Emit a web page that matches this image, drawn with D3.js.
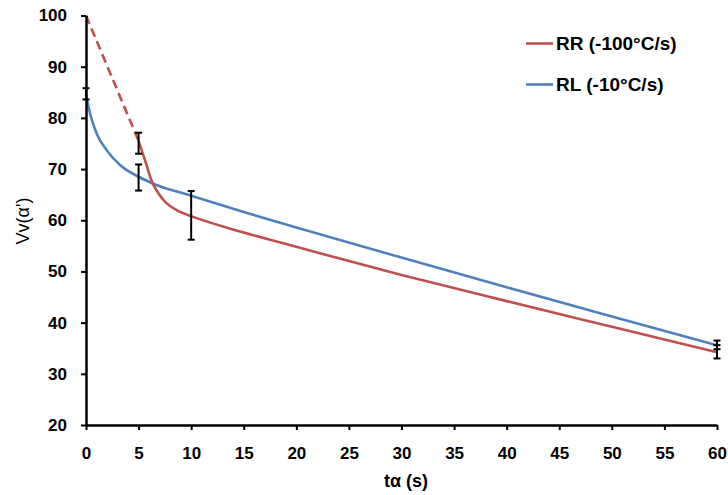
<!DOCTYPE html>
<html>
<head>
<meta charset="utf-8">
<script src="https://cdn.jsdelivr.net/npm/d3@7"></script>
<style>
  html, body { margin: 0; padding: 0; background: #fff; }
  svg { display: block; font-family: "Liberation Sans", Arial, sans-serif; }
</style>
</head>
<body>
<svg id="chart" width="728" height="495"></svg>
<script>
// ---- Data ----
const xTicks = [0, 5, 10, 15, 20, 25, 30, 35, 40, 45, 50, 55, 60];
const yTicks = [20, 30, 40, 50, 60, 70, 80, 90, 100];

// RR (-100°C/s): dashed extrapolated part and solid fitted curve
const rrDashedT = [0, 5];
const rrDashedV = [100, 75.5];
const rrT = [5, 5.6, 6.2, 7.35, 8.9, 10, 15, 20, 30, 40, 50, 60];
const rrV = [75.5, 71.8, 67.9, 64.0, 61.7, 60.8, 57.6, 54.8, 49.3, 44.2, 39.2, 34.2];

// RL (-10°C/s): fitted curve
const rlT = [0, 0.38, 1.0, 1.96, 3.23, 5, 6.7, 10, 15, 20, 30, 40, 50, 60];
const rlV = [84.5, 80.9, 77.0, 73.7, 70.8, 68.5, 66.9, 64.8, 61.6, 58.6, 52.7, 46.9, 41.2, 35.6];

// Error bars (measured points)
const errT    = [0, 5, 5, 10, 60, 60];
const errLow  = [83.6, 73.0, 65.8, 56.2, 33.0, 34.8];
const errHigh = [85.8, 77.1, 70.9, 65.7, 35.6, 36.5];

const seriesNames  = ["RR (-100°C/s)", "RL (-10°C/s)"];
const seriesColors = ["#C0504D", "#4F81BD"];

// ---- Layout ----
const svg = d3.select("#chart");
const x = d3.scaleLinear().domain([0, 60]).range([86, 717]);
const y = d3.scaleLinear().domain([20, 100]).range([425, 15.5]);

const line = d3.line()
  .x(d => x(d[0])).y(d => y(d[1]))
  .curve(d3.curveMonotoneX);

const zip = (a, b) => a.map((v, i) => [v, b[i]]);

// Curves
svg.append("path")
  .datum(zip(rrDashedT, rrDashedV))
  .attr("d", d3.line().x(d => x(d[0])).y(d => y(d[1])))
  .attr("fill", "none").attr("stroke", seriesColors[0])
  .attr("stroke-width", 2.6).attr("stroke-dasharray", "9,5");

svg.append("path")
  .datum(zip(rlT, rlV))
  .attr("d", line)
  .attr("fill", "none").attr("stroke", seriesColors[1]).attr("stroke-width", 2.6);

svg.append("path")
  .datum(zip(rrT, rrV))
  .attr("d", line)
  .attr("fill", "none").attr("stroke", seriesColors[0]).attr("stroke-width", 2.6);

// Axes
const fontSize = "17px";
const yAxis = svg.append("g")
  .attr("transform", `translate(${x(0)},0)`)
  .call(d3.axisLeft(y).tickValues(yTicks).tickSize(5).tickPadding(14).tickSizeOuter(0));
const xAxis = svg.append("g")
  .attr("transform", `translate(0,${y(20)})`)
  .call(d3.axisBottom(x).tickValues(xTicks).tickSize(5).tickPadding(17).tickSizeOuter(0));

[xAxis, yAxis].forEach(g => {
  g.select(".domain").attr("stroke", "#000").attr("stroke-width", 2.5);
  g.selectAll(".tick line").attr("stroke", "#000").attr("stroke-width", 2);
  g.selectAll(".tick text")
    .attr("fill", "#000")
    .style("font-size", fontSize)
    .style("font-weight", "bold")
    .style("font-family", "'Liberation Sans', Arial, sans-serif");
});

// Error bars
const capW = 3.5;
const eb = svg.append("g").attr("stroke", "#000").attr("stroke-width", 2);
errT.forEach((t, i) => {
  const cx = x(t);
  eb.append("line").attr("x1", cx).attr("x2", cx).attr("y1", y(errLow[i])).attr("y2", y(errHigh[i]));
  eb.append("line").attr("x1", cx - capW).attr("x2", cx + capW).attr("y1", y(errLow[i])).attr("y2", y(errLow[i]));
  eb.append("line").attr("x1", cx - capW).attr("x2", cx + capW).attr("y1", y(errHigh[i])).attr("y2", y(errHigh[i]));
});

// Axis titles
svg.append("text")
  .attr("x", 406).attr("y", 487)
  .attr("text-anchor", "middle")
  .style("font-size", "18px").style("font-weight", "bold")
  .text("tα (s)");

svg.append("text")
  .attr("transform", "translate(29,221) rotate(-90)")
  .attr("text-anchor", "middle")
  .style("font-size", "18px")
  .text("Vv(α')");

// Legend
const legend = svg.append("g");
seriesNames.forEach((name, i) => {
  const ly = 43.5 + i * 41;
  legend.append("line")
    .attr("x1", 526).attr("x2", 553).attr("y1", ly).attr("y2", ly)
    .attr("stroke", seriesColors[i]).attr("stroke-width", 2.6);
  legend.append("text")
    .attr("x", 556).attr("y", ly + 6.5)
    .style("font-size", "19px").style("font-weight", "bold")
    .text(name);
});
</script>
</body>
</html>
